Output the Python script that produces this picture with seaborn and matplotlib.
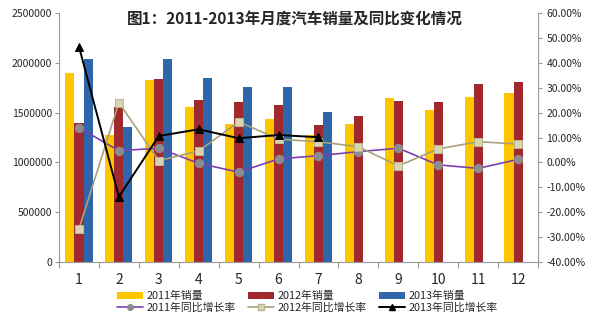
import numpy as np
import pandas as pd
import matplotlib
matplotlib.use("Agg")
import matplotlib.pyplot as plt
from matplotlib.patches import Patch
from matplotlib.lines import Line2D
import seaborn as sns

months = [str(m) for m in range(1, 13)]
sales_2011 = [1900000, 1275000, 1827000, 1553000, 1386000, 1436000, 1280000, 1386000, 1650000, 1526000, 1657000, 1694000]
sales_2012 = [1393000, 1560000, 1834000, 1627000, 1606000, 1576000, 1376000, 1469000, 1616000, 1606000, 1790000, 1810000]
sales_2013 = [2035000, 1355000, 2035000, 1844000, 1760000, 1754000, 1509000, None, None, None, None, None]
growth_2011 = [13.9, 4.7, 5.7, -0.4, -3.9, 1.4, 2.7, 4.3, 5.7, -1.0, -2.4, 1.2]
growth_2012 = [-26.7, 24.0, 0.7, 4.6, 16.3, 9.3, 8.3, 6.3, -1.4, 5.4, 8.3, 7.4]
growth_2013 = [46.5, -13.8, 10.6, 13.3, 9.7, 11.0, 10.1, None, None, None, None, None]

bar_labels = ["2011年销量", "2012年销量", "2013年销量"]
line_labels = ["2011年同比增长率", "2012年同比增长率", "2013年同比增长率"]
title = "图1：2011-2013年月度汽车销量及同比变化情况"

sns.set_theme(style="white")
plt.rcParams['font.family'] = ['Noto Sans CJK SC', 'DejaVu Sans']

bar_df = pd.DataFrame({
    "month": months * 3,
    "series": [bar_labels[0]] * 12 + [bar_labels[1]] * 12 + [bar_labels[2]] * 12,
    "value": sales_2011 + sales_2012 + sales_2013,
})
bar_df["value"] = pd.to_numeric(bar_df["value"])

bar_colors = ["#FFC600", "#A1292E", "#2F66A9"]
fig = plt.figure(figsize=(5.92, 3.21), dpi=100)
ax = fig.add_axes([0.0997, 0.1838, 0.8091, 0.7757])

sns.barplot(data=bar_df, x="month", y="value", hue="series", order=months,
            hue_order=bar_labels, palette=bar_colors, width=0.68, gap=0,
            ax=ax, legend=False, saturation=1, linewidth=0)

ax.set_ylim(0, 2500000)
ax.set_yticks(np.arange(0, 2500001, 500000))
ax.set_yticklabels([f"{int(v)}" for v in np.arange(0, 2500001, 500000)], fontsize=7.5)
ax.set_xlim(-0.5, 11.5)
ax.set_xlabel("")
ax.set_ylabel("")
ax.tick_params(axis="x", length=0, labelsize=10, pad=8)
ax.tick_params(axis="y", length=3, color="#999999", width=0.8, pad=2, direction="out", left=True)
ax.set_xticks(np.arange(-0.5, 12, 1), minor=True)
ax.tick_params(axis="x", which="minor", length=4, color="#999999", width=0.8, bottom=True)
for s in ["top", "right"]:
    ax.spines[s].set_visible(False)
for s in ["left", "bottom"]:
    ax.spines[s].set_color("#999999")
    ax.spines[s].set_linewidth(0.8)

ax2 = ax.twinx()
x = np.arange(12)
line_df = pd.DataFrame({
    "x": np.concatenate([x, x, x]),
    "series": [line_labels[0]] * 12 + [line_labels[1]] * 12 + [line_labels[2]] * 12,
    "value": pd.to_numeric(pd.Series(growth_2011 + growth_2012 + growth_2013)),
})
styles = [
    dict(color="#7B3FB0", marker="o", mfc="#8C8C8C", mec="#8C8C8C", ms=6, lw=1.2),
    dict(color="#A8A07A", marker="s", mfc="#D9D5B0", mec="#BDB890", ms=6, lw=1.2),
    dict(color="#000000", marker="^", mfc="#000000", mec="#000000", ms=6, lw=1.4),
]
for lab, st in zip(line_labels, styles):
    d = line_df[line_df["series"] == lab].dropna()
    sns.lineplot(data=d, x="x", y="value", ax=ax2, color=st["color"], lw=st["lw"],
                 marker=st["marker"], markerfacecolor=st["mfc"], markeredgecolor=st["mec"],
                 markersize=st["ms"], legend=False)

ax2.set_ylim(-40, 60)
ax2.set_yticks(np.arange(-40, 61, 10))
ax2.set_yticklabels([f"{v:.2f}%" for v in np.arange(-40, 61, 10)], fontsize=7.5)
ax2.set_ylabel("")
ax2.set_xlim(-0.5, 11.5)
ax2.tick_params(axis="y", length=3, color="#999999", width=0.8, pad=3, right=True)
for s in ["top", "left", "bottom"]:
    ax2.spines[s].set_visible(False)
ax2.spines["right"].set_color("#999999")
ax2.spines["right"].set_linewidth(0.8)

fig.text(0.498, 0.943, title, ha="center", va="center", fontsize=11.2, fontweight="bold")

handles = []
labels = []
for i in range(3):
    handles.append(Patch(facecolor=bar_colors[i], edgecolor="none"))
    labels.append(bar_labels[i])
    st = styles[i]
    handles.append(Line2D([], [], color=st["color"], lw=st["lw"], marker=st["marker"],
                          markerfacecolor=st["mfc"], markeredgecolor=st["mec"], markersize=4))
    labels.append(line_labels[i])
fig.legend(handles, labels, ncol=3, loc="lower left", bbox_to_anchor=(0.198, 0.027),
           frameon=False, fontsize=7.8, handlelength=2.4, handleheight=0.7,
           columnspacing=1.15, handletextpad=0.3, labelspacing=0.05, borderpad=0,
           borderaxespad=0)

fig.savefig("out.png", dpi=100)
